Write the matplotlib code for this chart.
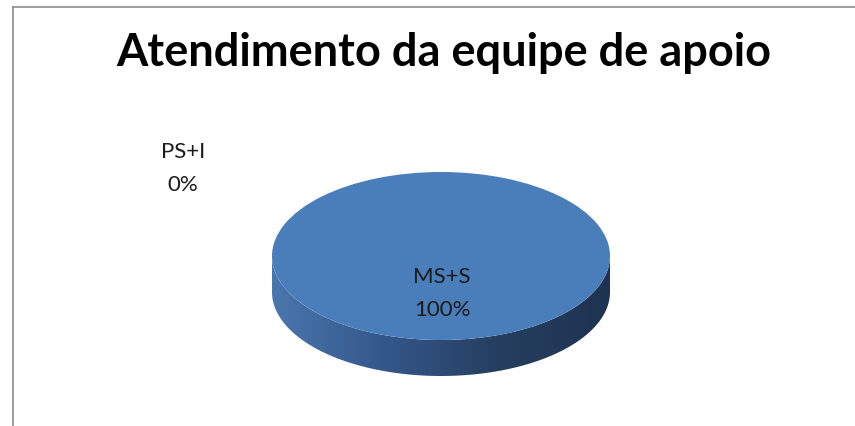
import numpy as np
import matplotlib
matplotlib.use("Agg")
import matplotlib.pyplot as plt
from matplotlib.patches import Polygon
from matplotlib.lines import Line2D
from matplotlib.colors import LinearSegmentedColormap

# ---- data ----
categories = ["MS+S", "PS+I"]
values = [100, 0]
title = "Atendimento da equipe de apoio"

W, H = 855, 427
fig = plt.figure(figsize=(W / 100, H / 100), dpi=100)
fig.patch.set_facecolor("white")

# frame of the chart area
fig.add_artist(Line2D([13 / W, 1.0], [1 - 8 / H, 1 - 8 / H], color="#8c8c8c", lw=1.2))
fig.add_artist(Line2D([13 / W, 13 / W], [0, 1 - 8 / H], color="#8c8c8c", lw=1.2))

fig.text(444 / W, 1 - 53 / H, title, ha="center", va="center",
         fontsize=32.5, fontweight="bold", family=["Lato", "DejaVu Sans"])

# pie axes: x in [-1, 1], top face ellipse center y=0, semi-height 1
thick = 36 / 84.0
left_px, right_px, top_px, bot_px = 272, 610, 173, 377
ax = fig.add_axes([left_px / W, 1 - bot_px / H, (right_px - left_px) / W, (bot_px - top_px) / H])

top_color = "#4a7ebb"

# side (front half) with gradient
t = np.linspace(np.pi, 2 * np.pi, 200)
xs = np.cos(t)
ys = np.sin(t)
side = np.concatenate([np.column_stack([xs, ys]), np.column_stack([xs[::-1], ys[::-1] - thick])])
poly = Polygon(side, closed=True, facecolor="none", edgecolor="none")
ax.add_patch(poly)
grad = np.linspace(0, 1, 256)[None, :]
cmap = LinearSegmentedColormap.from_list("side", ["#4a77ad", "#34578a", "#263f60", "#1e3350"])
im = ax.imshow(grad, cmap=cmap, extent=[-1, 1, -1 - thick, 0], aspect="auto", zorder=1)
im.set_clip_path(poly)

# top face drawn by pie
wedges, _ = ax.pie(values, colors=[top_color, "#c0504d"], startangle=90, counterclock=False,
                   radius=1, center=(0, 0), wedgeprops=dict(edgecolor="none"), frame=True)
for w in wedges:
    w.set_zorder(2)
ax.set_xlim(-1, 1)
ax.set_ylim(-1 - thick, 1)
ax.set_aspect("auto")
ax.axis("off")

total = sum(values)
lbl_font = dict(fontsize=16, family=["Lato", "DejaVu Sans"], color="#1a1a1a", ha="center", va="center")
# labels
fig.text(442 / W, 1 - 277 / H, f"{categories[0]}", **lbl_font)
fig.text(442 / W, 1 - 310 / H, f"{values[0] / total * 100:.0f}%", **lbl_font)
fig.text(183 / W, 1 - 152 / H, f"{categories[1]}", **lbl_font)
fig.text(183 / W, 1 - 185 / H, f"{values[1] / total * 100:.0f}%", **lbl_font)

fig.savefig("out.png", dpi=100, facecolor="white")
